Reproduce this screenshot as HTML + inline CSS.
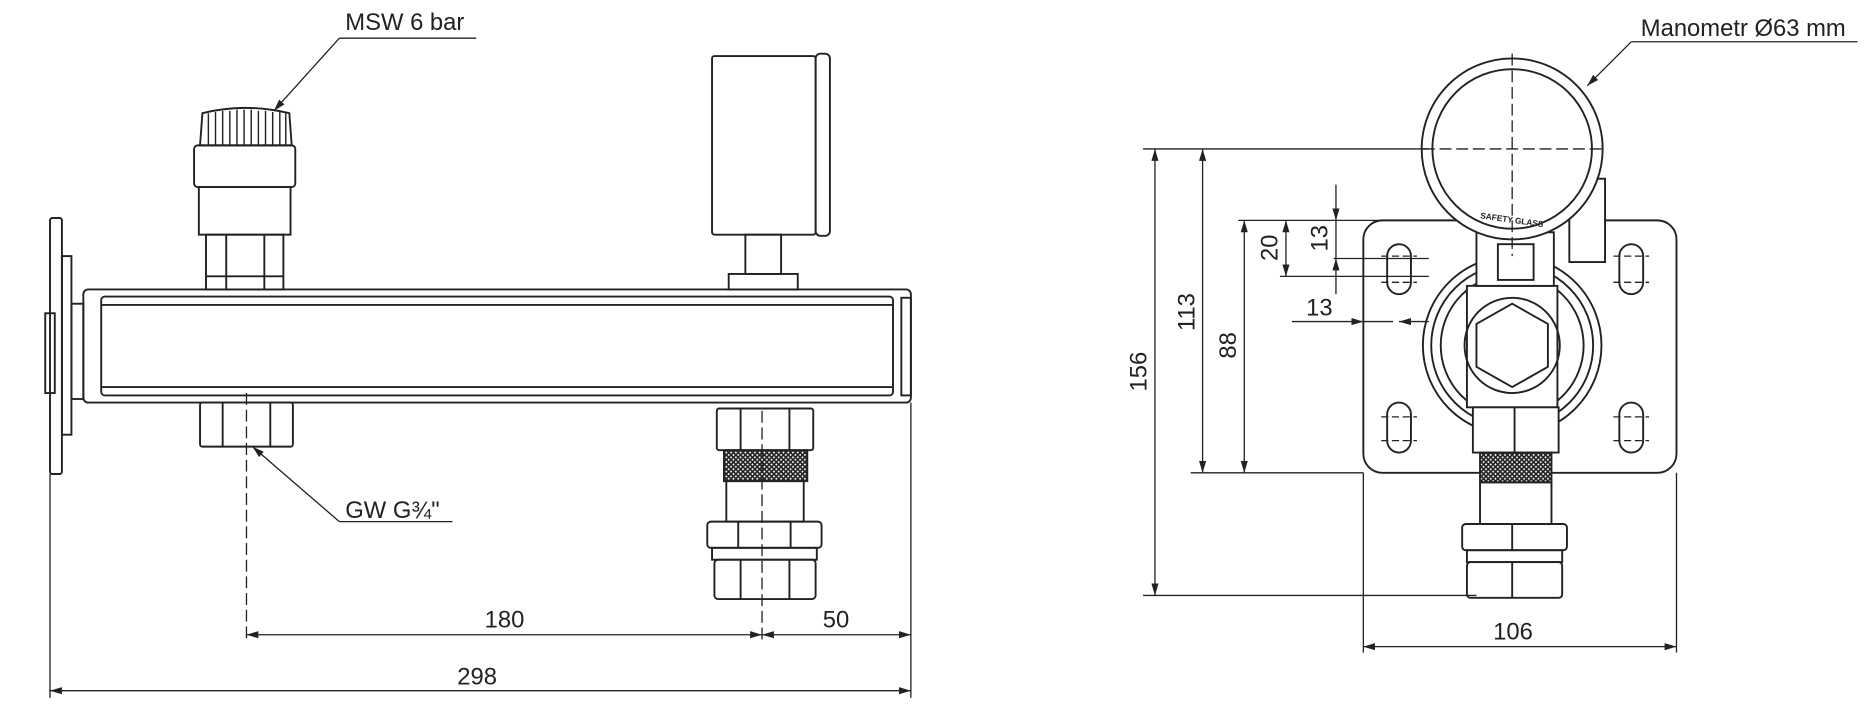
<!DOCTYPE html>
<html><head><meta charset="utf-8"><style>html,body{margin:0;padding:0;background:#fff}svg{display:block}</style></head>
<body>
<svg width="1867" height="717" viewBox="0 0 1568 602" xmlns="http://www.w3.org/2000/svg" font-family="Liberation Sans, sans-serif">
<defs>
<marker id="a" viewBox="0 0 10 6" refX="10" refY="3" markerWidth="10" markerHeight="6" orient="auto-start-reverse" markerUnits="userSpaceOnUse"><path d="M0,0L10,3L0,6z" fill="#222"/></marker>
<pattern id="knurl" width="4" height="4" patternUnits="userSpaceOnUse"><rect width="4" height="4" fill="#fff"/><path d="M0,0L4,4M4,0L0,4" stroke="#222" stroke-width="1.4"/></pattern>
</defs>
<g fill="none" stroke="#222" stroke-width="1.6">
<rect x="42" y="183" width="10" height="215" rx="2"/>
<rect x="52" y="215" width="8" height="150"/>
<rect x="38" y="263" width="8" height="67"/>
<rect x="60" y="255" width="10" height="80"/>
<rect x="70" y="243" width="695" height="95" rx="4"/>
<rect x="85" y="249" width="665" height="83" rx="3"/>
<line x1="85" y1="256" x2="750" y2="256"/>
<line x1="85" y1="325" x2="750" y2="325"/>
<rect x="757" y="250" width="8" height="82"/>
<path d="M168,122 L170,95 Q205,86 243,95 L245,122 Z"/>
<g stroke-width="1.2">
<path d="M175,95V122M181,94V122M187,93V122M193,93V122M199,92V122M205,92V122M211,92V122M217,93V122M223,93V122M229,94V122M235,94V122M240,95V122"/></g>
<rect x="163" y="122" width="85" height="35" rx="3"/>
<rect x="167" y="157" width="77" height="40"/>
<rect x="173" y="197" width="65" height="46"/>
<line x1="190" y1="197" x2="190" y2="243"/><line x1="222" y1="197" x2="222" y2="243"/>
<line x1="173" y1="232" x2="238" y2="232"/>
<rect x="598" y="47" width="87" height="150" rx="2"/>
<rect x="685" y="45" width="12" height="153" rx="4"/>
<rect x="626" y="197" width="30" height="33"/>
<rect x="612" y="230" width="58" height="13"/>
<rect x="168" y="338" width="78" height="37" rx="2"/>
<line x1="187" y1="338" x2="187" y2="375"/><line x1="227" y1="338" x2="227" y2="375"/>
<rect x="602" y="343" width="81" height="35" rx="2"/>
<line x1="622" y1="343" x2="622" y2="378"/><line x1="663" y1="343" x2="663" y2="378"/>
<rect x="608" y="378" width="70" height="26" fill="url(#knurl)"/>
<rect x="610" y="404" width="65" height="34"/>
<rect x="594" y="438" width="96" height="22" rx="3"/>
<line x1="620" y1="438" x2="620" y2="460"/><line x1="664" y1="438" x2="664" y2="460"/>
<rect x="598" y="460" width="88" height="10"/>
<rect x="600" y="470" width="85" height="33" rx="3"/>
<line x1="622" y1="470" x2="622" y2="503"/><line x1="663" y1="470" x2="663" y2="503"/>
</g>
<g stroke="#222" stroke-width="1.1" fill="none">
<line x1="207" y1="330" x2="207" y2="538" stroke-dasharray="10,4"/>
<line x1="640" y1="345" x2="640" y2="538" stroke-dasharray="10,4"/>
<line x1="42" y1="398" x2="42" y2="586"/>
<line x1="765" y1="338" x2="765" y2="586"/>
<line x1="207" y1="533" x2="640" y2="533" marker-start="url(#a)" marker-end="url(#a)"/>
<line x1="640" y1="533" x2="765" y2="533" marker-start="url(#a)" marker-end="url(#a)"/>
<line x1="42" y1="580" x2="765" y2="580" marker-start="url(#a)" marker-end="url(#a)"/>
<line x1="285" y1="32" x2="400" y2="32"/>
<line x1="285" y1="32" x2="230" y2="93" marker-end="url(#a)"/>
<line x1="285" y1="438" x2="380" y2="438"/>
<line x1="285" y1="438" x2="212" y2="375" marker-end="url(#a)"/>
</g>
<g fill="#222" font-size="20">
<text x="290" y="25">MSW 6 bar</text>
<text x="290" y="435">GW G¾"</text>
<text x="407" y="527">180</text>
<text x="691" y="527">50</text>
<text x="384" y="575">298</text>
</g>
<g fill="none" stroke="#222" stroke-width="1.6">
<rect x="1145" y="185" width="263" height="212" rx="16"/>
<rect x="1165" y="205" width="20" height="42" rx="10"/>
<rect x="1360" y="205" width="20" height="42" rx="10"/>
<rect x="1165" y="338" width="20" height="42" rx="10"/>
<rect x="1360" y="338" width="20" height="42" rx="10"/>
<circle cx="1270" cy="290" r="75"/>
<circle cx="1270" cy="290" r="68"/>
<circle cx="1270" cy="290" r="60"/>
<rect x="1232" y="240" width="76" height="102" fill="#fff"/>
<circle cx="1270" cy="290" r="40"/>
<polygon points="1270,255 1300,272 1300,308 1270,325 1240,308 1240,272"/>
<rect x="1318" y="150" width="30" height="70" fill="#fff"/>
<rect x="1240" y="195" width="65" height="45" fill="#fff"/>
<rect x="1258" y="205" width="30" height="30"/>
<circle cx="1270" cy="125" r="76" fill="#fff"/>
<circle cx="1270" cy="125" r="67"/>
<rect x="1237" y="342" width="72" height="38" fill="#fff"/>
<line x1="1272" y1="342" x2="1272" y2="380"/>
<rect x="1243" y="380" width="60" height="25" fill="url(#knurl)"/>
<rect x="1243" y="405" width="60" height="35"/>
<rect x="1228" y="440" width="88" height="22" rx="3"/>
<line x1="1270" y1="440" x2="1270" y2="462"/>
<rect x="1232" y="462" width="80" height="10"/>
<rect x="1232" y="472" width="80" height="30" rx="3"/>
<line x1="1270" y1="472" x2="1270" y2="502"/>
</g>
<g stroke="#222" stroke-width="1.1" fill="none">
<line x1="1270" y1="45" x2="1270" y2="215" stroke-dasharray="10,4"/>
<line x1="1195" y1="125" x2="1345" y2="125" stroke-dasharray="10,4"/>
<path d="M1160,215H1190M1160,237H1190M1355,215H1385M1355,237H1385M1160,350H1190M1160,370H1190M1355,350H1385M1355,370H1385" stroke-dasharray="6,3"/>
<line x1="960" y1="125" x2="1200" y2="125"/>
<line x1="960" y1="500" x2="1240" y2="500"/>
<line x1="1000" y1="397" x2="1145" y2="397"/>
<line x1="1040" y1="185" x2="1200" y2="185"/>
<line x1="1075" y1="232" x2="1200" y2="232"/>
<line x1="1120" y1="217" x2="1200" y2="217"/>
<line x1="970" y1="125" x2="970" y2="500" marker-start="url(#a)" marker-end="url(#a)"/>
<line x1="1010" y1="125" x2="1010" y2="397" marker-start="url(#a)" marker-end="url(#a)"/>
<line x1="1045" y1="185" x2="1045" y2="397" marker-start="url(#a)" marker-end="url(#a)"/>
<line x1="1080" y1="185" x2="1080" y2="232" marker-start="url(#a)" marker-end="url(#a)"/>
<line x1="1122" y1="155" x2="1122" y2="185" marker-end="url(#a)"/>
<line x1="1122" y1="185" x2="1122" y2="217"/>
<line x1="1122" y1="247" x2="1122" y2="217" marker-end="url(#a)"/>
<line x1="1085" y1="270" x2="1145" y2="270" marker-end="url(#a)"/>
<line x1="1145" y1="270" x2="1170" y2="270"/>
<line x1="1200" y1="270" x2="1175" y2="270" marker-end="url(#a)"/>
<line x1="1145" y1="397" x2="1145" y2="548"/>
<line x1="1408" y1="397" x2="1408" y2="548"/>
<line x1="1145" y1="543" x2="1408" y2="543" marker-start="url(#a)" marker-end="url(#a)"/>
<line x1="1370" y1="35" x2="1560" y2="35"/>
<line x1="1370" y1="35" x2="1333" y2="72" marker-end="url(#a)"/>
</g>
<g fill="#222" font-size="20">
<text x="1378" y="30">Manometr Ø63 mm</text>
<text x="1254" y="537">106</text>
<text transform="translate(963,312) rotate(-90)" text-anchor="middle">156</text>
<text transform="translate(1003,262) rotate(-90)" text-anchor="middle">113</text>
<text transform="translate(1038,290) rotate(-90)" text-anchor="middle">88</text>
<text transform="translate(1073,208) rotate(-90)" text-anchor="middle">20</text>
<text transform="translate(1115,200) rotate(-90)" text-anchor="middle">13</text>
<text x="1097" y="265">13</text>
<text x="1270" y="187" font-size="7" font-weight="bold" text-anchor="middle" transform="rotate(8 1270 183)">SAFETY GLASS</text>
</g>
</svg>
</body></html>
